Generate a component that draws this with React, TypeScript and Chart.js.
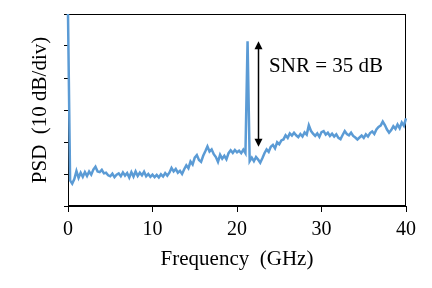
import React, { useEffect, useRef } from "react";
import { Chart, registerables } from "chart.js";

Chart.register(...registerables);

// Frequency grid (GHz), 0.25 GHz spacing
const FREQ_STEP_GHZ = 0.25;
// PSD trace (dB, arbitrary reference; 10 dB per division)
const psdValues: number[] = [
  60, 8.0, 7.0, 8.4, 10.9, 8.8, 10.4, 9.1, 10.6, 9.4,
  10.8, 9.8, 11.4, 12.3, 10.8, 10.6, 11.3, 10.2, 10.4, 9.6,
  9.3, 10.1, 9.0, 9.8, 10.2, 9.3, 10.5, 9.5, 10.3, 8.9,
  10.6, 9.2, 10.8, 9.4, 10.4, 9.6, 10.7, 9.3, 10.0, 9.1,
  9.8, 9.0, 9.7, 8.9, 9.9, 9.2, 10.3, 9.5, 10.4, 11.9,
  10.8, 11.6, 10.4, 11.0, 10.0, 11.5, 12.7, 11.8, 13.9, 13.0,
  15.1, 15.9, 14.4, 13.8, 15.7, 17.1, 18.6, 17.0, 17.7, 16.2,
  15.3, 13.8, 16.0, 14.8, 15.7, 14.6, 16.5, 17.4, 16.6, 17.5,
  16.8, 17.3, 16.5, 17.6, 16.5, 51.5, 14.0, 15.1, 14.0, 15.3,
  14.5, 13.5, 14.9, 16.5, 17.7, 16.9, 18.5, 19.1, 18.0, 19.9,
  19.3, 20.5, 20.8, 22.1, 21.3, 22.7, 22.0, 22.9, 22.1, 21.5,
  22.5, 21.7, 23.0, 22.3, 25.2, 23.5, 22.6, 21.9, 22.7, 21.6,
  23.1, 23.4, 22.3, 22.9, 21.9, 22.6, 21.7, 22.4, 21.3, 20.9,
  22.2, 23.4, 22.5, 22.1, 22.9, 21.9, 21.4, 20.8, 21.4, 22.0,
  21.3, 22.4, 21.7, 22.8, 23.3, 22.5, 23.9, 24.7, 25.1, 26.4,
  25.3, 23.9, 22.9, 23.7, 24.9, 24.1, 25.5, 24.3, 26.1, 25.1,
  27.4,
];
const xTickValues = [0, 10, 20, 30, 40];
const yTickValues = [0, 10, 20, 30, 40, 50, 60];

// Annotation (data units)
const ARROW_X = 22.5;
const ARROW_TOP = 51.5;
const ARROW_BOTTOM = 18.5;
const SNR_LABEL = "SNR = 35 dB";
const SNR_LABEL_X = 23.8;
const SNR_LABEL_Y = 43.5;

const FONT_FAMILY = "'Times New Roman', 'Liberation Serif', serif";

const framePlugin = {
  id: "frameAndArrow",
  beforeDatasetsDraw(chart: any) {
    const { ctx, chartArea } = chart;
    ctx.save();
    ctx.strokeStyle = "#000";
    ctx.lineWidth = 1;
    ctx.strokeRect(
      Math.round(chartArea.left) + 0.5,
      Math.round(chartArea.top) + 0.5,
      Math.round(chartArea.right - chartArea.left) - 1,
      Math.round(chartArea.bottom - chartArea.top) - 1
    );
    ctx.restore();
  },
  afterDatasetsDraw(chart: any) {
    const { ctx, scales } = chart;
    ctx.save();
    ctx.strokeStyle = "#000";
    ctx.fillStyle = "#000";
    const ax = Math.round(scales.x.getPixelForValue(ARROW_X)) + 0.5;
    const yTop = scales.y.getPixelForValue(ARROW_TOP);
    const yBot = scales.y.getPixelForValue(ARROW_BOTTOM);
    const head = 8;
    const hw = 4;
    ctx.lineWidth = 1.5;
    ctx.beginPath();
    ctx.moveTo(ax, yTop + head - 1);
    ctx.lineTo(ax, yBot - head + 1);
    ctx.stroke();
    ctx.beginPath();
    ctx.moveTo(ax, yTop);
    ctx.lineTo(ax - hw, yTop + head);
    ctx.lineTo(ax + hw, yTop + head);
    ctx.closePath();
    ctx.fill();
    ctx.beginPath();
    ctx.moveTo(ax, yBot);
    ctx.lineTo(ax - hw, yBot - head);
    ctx.lineTo(ax + hw, yBot - head);
    ctx.closePath();
    ctx.fill();
    ctx.font = `21px ${FONT_FAMILY}`;
    ctx.textAlign = "left";
    ctx.textBaseline = "middle";
    ctx.fillText(
      SNR_LABEL,
      scales.x.getPixelForValue(SNR_LABEL_X),
      scales.y.getPixelForValue(SNR_LABEL_Y)
    );
    ctx.restore();
  },
};

export default function App() {
  const canvasRef = useRef<HTMLCanvasElement | null>(null);

  useEffect(() => {
    if (!canvasRef.current) return;
    const points = psdValues.map((v, i) => ({ x: i * FREQ_STEP_GHZ, y: v }));
    const chart = new Chart(canvasRef.current, {
      type: "line",
      data: {
        datasets: [
          {
            data: points,
            borderColor: "#5B9BD5",
            borderWidth: 2.5,
            pointRadius: 0,
            tension: 0,
            fill: false,
            clip: false,
          },
        ],
      },
      options: {
        responsive: false,
        animation: false,
        devicePixelRatio: 1,
        layout: { padding: { left: 0, right: 26, top: 14, bottom: 0 } },
        plugins: {
          legend: { display: false },
          tooltip: { enabled: false },
        },
        scales: {
          x: {
            type: "linear",
            min: 0,
            max: 40,
            afterBuildTicks: (scale: any) => {
              scale.ticks = xTickValues.map((v) => ({ value: v }));
            },
            afterFit: (scale: any) => {
              scale.height = 82;
            },
            grid: {
              drawOnChartArea: false,
              drawTicks: true,
              tickLength: 6,
              color: "#000",
            },
            border: { display: true, color: "#000", width: 1 },
            ticks: {
              color: "#000",
              padding: 6,
              font: { family: FONT_FAMILY, size: 20 },
              maxRotation: 0,
            },
            title: {
              display: true,
              text: "Frequency  (GHz)",
              color: "#000",
              font: { family: FONT_FAMILY, size: 21 },
              padding: { top: 0, bottom: 16 },
            },
          },
          y: {
            type: "linear",
            min: 0,
            max: 60,
            afterBuildTicks: (scale: any) => {
              scale.ticks = yTickValues.map((v) => ({ value: v }));
            },
            afterFit: (scale: any) => {
              scale.width = 68;
            },
            grid: {
              drawOnChartArea: false,
              drawTicks: true,
              tickLength: 4,
              color: "#000",
            },
            border: { display: true, color: "#000", width: 1 },
            ticks: { display: false },
            title: {
              display: true,
              text: "PSD  (10 dB/div)",
              color: "#000",
              font: { family: FONT_FAMILY, size: 21 },
              padding: { top: 28, bottom: 0 },
            },
          },
        },
      },
      plugins: [framePlugin],
    });
    return () => chart.destroy();
  }, []);

  return (
    <div style={{ position: "absolute", left: 0, top: 0, width: 432, height: 288, background: "#fff" }}>
      <canvas ref={canvasRef} width={432} height={288} style={{ display: "block" }} />
    </div>
  );
}
